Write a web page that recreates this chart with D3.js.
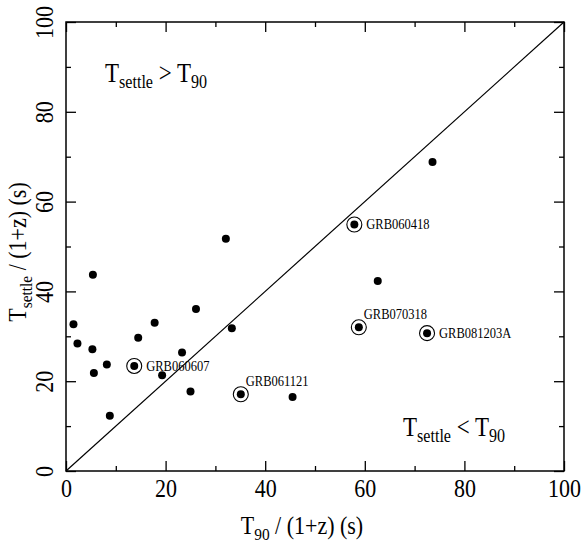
<!DOCTYPE html>
<html lang="en">
<head>
	<meta charset="utf-8">
	<title>Tsettle vs T90</title>
	<style>
		body { margin: 0; background: #fff; }
		text { font-family: "Liberation Serif", "Times New Roman", serif; fill: #000; }
		.frame { fill: none; stroke: #000; stroke-width: 1.5px; }
		.axis path { display: none; }
		.axis line { stroke: #000; stroke-width: 1.3px; }
	</style>
</head>
<body>
	<div id="chart"></div>

	<script src="https://d3js.org/d3.v7.min.js"></script>
	<script>
		// T90/(1+z) and Tsettle/(1+z), seconds
		var t90 =    [5.4, 1.5, 2.3, 5.3, 5.6, 8.2, 8.8, 13.7, 14.5, 17.8, 19.3, 23.3, 25.0,
		              32.1, 26.1, 33.3, 35.1, 45.5, 73.6, 57.9, 62.6, 58.8, 72.5];
		var tsettle = [43.7, 32.7, 28.4, 27.1, 21.8, 23.7, 12.3, 23.4, 29.7, 33.0, 21.3, 26.4, 17.7,
		              51.7, 36.1, 31.8, 17.1, 16.5, 68.8, 54.9, 42.3, 32.0, 30.7];
		// highlighted bursts (index into arrays above)
		var grbNames = ["GRB060607", "GRB061121", "GRB060418", "GRB070318", "GRB081203A"];
		var grbIndex = [7, 16, 19, 21, 22];
		var grbPlace = ["right", "above", "right", "above", "right"];

		var majorTicks = [0, 20, 40, 60, 80, 100];
		var minorTicks = [10, 30, 50, 70, 90];

		var width = 581, height = 550;
		var margin = {left: 66, right: 17, top: 22, bottom: 79};
		var stretch = 1.15; // glyphs in the original look taller than plain Times

		var svg = d3.select("#chart")
			.append("svg")
			.attr("width", width)
			.attr("height", height);

		var x = d3.scaleLinear().domain([0, 100]).range([margin.left, width - margin.right]);
		var y = d3.scaleLinear().domain([0, 100]).range([height - margin.bottom, margin.top]);

		// ticks on all four sides, pointing inward
		function ticks(axisFn, scale, size, transform) {
			svg.append("g").attr("class", "axis").attr("transform", transform)
				.call(axisFn(scale).tickValues(minorTicks).tickSize(-size / 2).tickFormat(""));
			return svg.append("g").attr("class", "axis").attr("transform", transform)
				.call(axisFn(scale).tickValues(majorTicks).tickSize(-size).tickFormat(d3.format("d")));
		}

		var xAxis = ticks(d3.axisBottom, x, 10, "translate(0," + y(0) + ")");
		var yAxis = ticks(d3.axisLeft, y, 10, "translate(" + x(0) + ",0)");
		ticks(d3.axisTop, x, 10, "translate(0," + y(100) + ")").selectAll("text").remove();
		ticks(d3.axisRight, y, 10, "translate(" + x(100) + ",0)").selectAll("text").remove();

		xAxis.selectAll("text")
			.attr("y", null).attr("dy", null)
			.attr("font-size", 22)
			.attr("transform", "translate(0,26) scale(1," + stretch + ")");

		yAxis.selectAll("text")
			.attr("x", null).attr("dy", null)
			.attr("font-size", 22)
			.attr("text-anchor", "middle")
			.attr("transform", "translate(-13,0) rotate(-90) scale(1," + stretch + ")");

		svg.append("rect")
			.attr("class", "frame")
			.attr("x", x(0)).attr("y", y(100))
			.attr("width", x(100) - x(0)).attr("height", y(0) - y(100));

		// one-to-one line
		svg.append("line")
			.attr("x1", x(0)).attr("y1", y(0))
			.attr("x2", x(100)).attr("y2", y(100))
			.attr("stroke", "#000").attr("stroke-width", 1.2);

		// text with subscripted parts: [["T", false], ["settle", true], ...]
		function richText(parent, parts, size, transform, anchor) {
			var t = parent.append("text")
				.attr("font-size", size)
				.attr("text-anchor", anchor || "start")
				.attr("transform", transform + " scale(1," + stretch + ")");
			var lowered = false;
			parts.forEach(function(p) {
				var s = t.append("tspan").text(p[0]);
				if (p[1] && !lowered) { s.attr("font-size", size * 0.7).attr("dy", 5); lowered = true; }
				else if (p[1]) { s.attr("font-size", size * 0.7); }
				else if (lowered) { s.attr("dy", -5); lowered = false; }
			});
			return t;
		}

		richText(svg, [["T", false], ["90", true], [" / (1+z) (s)", false]], 22,
			"translate(302,534)", "middle");
		richText(svg, [["T", false], ["settle", true], [" / (1+z) (s)", false]], 22,
			"translate(26,252) rotate(-90)", "middle");

		richText(svg, [["T", false], ["settle", true], [" > T", false], ["90", true]], 23,
			"translate(105,82)");
		richText(svg, [["T", false], ["settle", true], [" < T", false], ["90", true]], 23,
			"translate(403,436)");

		// points
		svg.append("g")
			.selectAll("circle")
			.data(d3.range(t90.length))
			.enter().append("circle")
			.attr("cx", function(i) { return x(t90[i]); })
			.attr("cy", function(i) { return y(tsettle[i]); })
			.attr("r", 4)
			.attr("fill", "#000");

		var grb = svg.append("g")
			.selectAll("g")
			.data(d3.range(grbNames.length))
			.enter().append("g")
			.attr("transform", function(k) {
				var i = grbIndex[k];
				return "translate(" + x(t90[i]) + "," + y(tsettle[i]) + ")";
			});

		grb.append("circle")
			.attr("r", 7.5)
			.attr("fill", "none")
			.attr("stroke", "#000")
			.attr("stroke-width", 1.1);

		grb.append("text")
			.attr("font-size", 12.5)
			.attr("transform", function(k) {
				var off = grbPlace[k] == "right" ? [12, 5] : [5, -8];
				return "translate(" + off[0] + "," + off[1] + ") scale(1," + stretch + ")";
			})
			.text(function(k) { return grbNames[k]; });
	</script>
</body>
</html>
